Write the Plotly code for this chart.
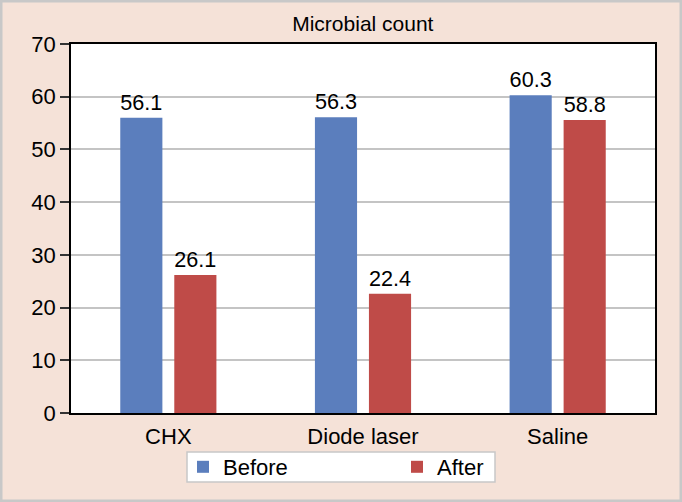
import plotly.graph_objects as go

# data
groups = ["CHX", "Diode laser", "Saline"]
before_height = [56.0, 56.1, 60.3]
before_label = ["56.1", "56.3", "60.3"]
after_height = [26.2, 22.6, 55.6]
after_label = ["26.1", "22.4", "58.8"]
y_ticks = [0, 10, 20, 30, 40, 50, 60, 70]

BLUE = "#5b7ebd"
RED = "#bf4b48"
BG = "#f5e2d8"
FONT = "Liberation Sans, Arial, sans-serif"

# plot area in pixels, used to place things given in paper units
L, R, T, B = 71, 27, 44, 89
PW, PH = 682 - L - R, 502 - T - B


def px_x(x):
    return (x - L) / PW


def px_y(y):
    return (502 - B - y) / PH


fig = go.Figure()
fig.add_trace(go.Bar(
    x=groups, y=before_height, name="Before", legend="legend",
    marker=dict(color=BLUE, line=dict(width=0)),
    text=before_label, textposition="outside",
    textfont=dict(size=22, color="black"), cliponaxis=False,
))
fig.add_trace(go.Bar(
    x=groups, y=after_height, name="After", legend="legend2",
    marker=dict(color=RED, line=dict(width=0)),
    text=after_label, textposition="outside",
    textfont=dict(size=22, color="black"), cliponaxis=False,
))

leg = dict(orientation="h", xanchor="left", y=px_y(467), yanchor="middle",
           bgcolor="rgba(0,0,0,0)", borderwidth=0, font=dict(size=22))
fig.update_layout(
    width=682, height=502,
    margin=dict(l=L, r=R, t=T, b=B),
    paper_bgcolor=BG, plot_bgcolor="white",
    font=dict(family=FONT, size=22, color="black"),
    barmode="group", bargap=0.445, bargroupgap=0.22,
    title=dict(text="Microbial count", x=0.532, xanchor="center",
               y=1 - 24 / 502, yanchor="middle", font=dict(size=21)),
    showlegend=True,
    legend=dict(leg, x=px_x(183)),
    legend2=dict(leg, x=px_x(397)),
)
fig.update_xaxes(
    showline=True, mirror=True, linecolor="black", linewidth=1.5,
    ticks="outside", ticklen=3, tickcolor="rgba(0,0,0,0)",
    showgrid=False,
)
fig.update_yaxes(
    range=[0, 70], tickvals=y_ticks,
    showline=True, mirror=True, linecolor="black", linewidth=1.5,
    ticks="outside", ticklen=9, tickcolor="#333", tickwidth=1.5,
    showgrid=True, gridcolor="#c4c4c4", gridwidth=1.5, zeroline=False,
)

# white legend box behind both legend entries
fig.add_shape(type="rect", xref="paper", yref="paper",
              x0=px_x(187), x1=px_x(495), y0=px_y(482), y1=px_y(452),
              fillcolor="white", line=dict(color="#c8c8c8", width=1.5),
              layer="below")
# thin grey frame round the whole picture
fig.add_shape(type="rect", xref="paper", yref="paper",
              x0=px_x(1), x1=px_x(681), y0=px_y(501), y1=px_y(1),
              line=dict(color="#c8c8c8", width=3), layer="below")

fig.write_html("out.html", config={"displayModeBar": False},
               post_script="document.body.style.margin='0';")
